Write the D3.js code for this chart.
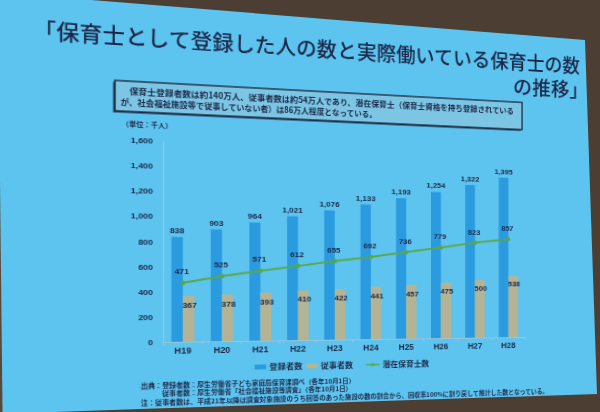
<!DOCTYPE html>
<html><head><meta charset="utf-8">
<script src="https://cdn.jsdelivr.net/npm/d3@7/dist/d3.min.js"></script>
<style>
html,body{margin:0;padding:0;background:#5cc4ef;width:600px;height:412px;overflow:hidden}
#slide{position:absolute;left:0;top:0;width:600px;height:412px;transform-origin:0 0}
#frame{position:absolute;left:0;top:0}
svg text{font-family:"Noto Sans CJK JP","Noto Sans",sans-serif}
</style></head><body>
<div id="slide"><svg id="chart" width="600" height="412" style="overflow:visible"></svg></div>
<svg id="frame" width="600" height="412"></svg>
<script>
// ---- data ----
const categories = ["H19","H20","H21","H22","H23","H24","H25","H26","H27","H28"];
const registered = [838, 903, 964, 1021, 1076, 1133, 1193, 1254, 1322, 1395];
const employed   = [367, 378, 393, 410, 422, 441, 457, 475, 500, 538];
const potential  = [471, 525, 571, 612, 655, 692, 736, 779, 823, 857];
const yTicks = [0, 200, 400, 600, 800, 1000, 1200, 1400, 1600];
const seriesNames = ["登録者数", "従事者数", "潜在保育士数"];
const titleLines = ["「保育士として登録した人の数と実際働いている保育士の数", "の推移」"];
const boxLines = ["　保育士登録者数は約140万人、従事者数は約54万人であり、潜在保育士（保育士資格を持ち登録されている",
                  "が、社会福祉施設等で従事していない者）は86万人程度となっている。"];
const unitLabel = "（単位：千人）";
const notes = ["出典：登録者数：厚生労働省子ども家庭局保育課調べ（各年10月1日）",
               "　　　従事者数：厚生労働省「社会福祉施設等調査」（各年10月1日）",
               "注：従事者数は、平成21年以降は調査対象施設のうち回答のあった施設の数の割合から、回収率100%に割り戻して推計した数となっている。"];

// ---- colours ----
const cBlue = "#2b9be0", cTan = "#b4b394", cGreen = "#5aa845", cText = "#1c2748", cAxis = "#9fc3d6";

// ---- perspective of the photographed slide (homography flat -> photo) ----
function solveH(src, dst){
  const A = [], b = [];
  for (let i = 0; i < 4; i++){
    const [x, y] = src[i], [u, v] = dst[i];
    A.push([x, y, 1, 0, 0, 0, -u*x, -u*y]); b.push(u);
    A.push([0, 0, 0, x, y, 1, -v*x, -v*y]); b.push(v);
  }
  const n = 8;
  for (let c = 0; c < n; c++){
    let p = c;
    for (let r = c+1; r < n; r++) if (Math.abs(A[r][c]) > Math.abs(A[p][c])) p = r;
    [A[c], A[p]] = [A[p], A[c]]; [b[c], b[p]] = [b[p], b[c]];
    for (let r = 0; r < n; r++){
      if (r === c) continue;
      const f = A[r][c] / A[c][c];
      for (let k = c; k < n; k++) A[r][k] -= f*A[c][k];
      b[r] -= f*b[c];
    }
  }
  return b.map((v, i) => v / A[i][i]);
}
const h = solveH([[163,141],[523,141],[523,342],[163,342]],
                 [[163,141],[523,155],[523,337],[163,342]]);
d3.select("#slide").style("transform",
  `matrix3d(${h[0]},${h[3]},0,${h[6]},${h[1]},${h[4]},0,${h[7]},0,0,1,0,${h[2]},${h[5]},0,1)`);

const svg = d3.select("#chart");

// ---- title ----
svg.append("text").attr("x", 49).attr("y", 46).attr("font-size", 21).attr("font-weight", 500)
  .attr("fill", cText).attr("textLength", 538).attr("lengthAdjust", "spacingAndGlyphs").text(titleLines[0]);
svg.append("text").attr("x", 596).attr("y", 73).attr("font-size", 21).attr("font-weight", 500)
  .attr("fill", cText).attr("text-anchor", "end").text(titleLines[1]);

// ---- note box ----
svg.append("rect").attr("x", 118.5).attr("y", 84.5).attr("width", 402).attr("height", 30).attr("fill", "#1e2b45");
svg.append("rect").attr("x", 120).attr("y", 83).attr("width", 402).attr("height", 30)
  .attr("fill", "#7cc6e4").attr("stroke", "#1e2b45").attr("stroke-width", 1.4);
svg.append("text").attr("x", 125).attr("y", 96).attr("font-size", 8.5).attr("font-weight", 700).attr("fill", cText)
  .attr("textLength", 388).attr("lengthAdjust", "spacingAndGlyphs").text(boxLines[0]);
svg.append("text").attr("x", 125).attr("y", 107.5).attr("font-size", 8.5).attr("font-weight", 700).attr("fill", cText)
  .attr("textLength", 243).attr("lengthAdjust", "spacingAndGlyphs").text(boxLines[1]);
svg.append("text").attr("x", 126).attr("y", 128).attr("font-size", 6.5).attr("font-weight", 700).attr("fill", cText).text(unitLabel);

// ---- scales ----
const x = d3.scaleBand().domain(categories).range([163, 525]).padding(0);
const y = d3.scaleLinear().domain([0, 1600]).range([342, 141]);
const cx = c => x(c) + x.bandwidth()/2;
const barW = 10.5;

// ---- axes ----
const gy = svg.append("g").attr("transform", "translate(163,0)")
  .call(d3.axisLeft(y).tickValues(yTicks).tickFormat(d3.format(",")).tickSize(0).tickPadding(9));
gy.select(".domain").attr("stroke", cAxis);
gy.selectAll("text").attr("font-size", 8).attr("font-weight", 700).attr("fill", cText)
  .style("font-family", "'Liberation Sans','Noto Sans',sans-serif");

const gx = svg.append("g").attr("transform", "translate(0,342)")
  .call(d3.axisBottom(x).tickSize(0).tickPadding(6));
gx.select(".domain").attr("stroke", cAxis);
gx.selectAll("text").attr("font-size", 8.5).attr("font-weight", 700).attr("fill", cText)
  .style("font-family", "'Liberation Sans','Noto Sans',sans-serif");
gx.selectAll(".sep").data(d3.range(categories.length + 1)).join("line")
  .attr("x1", i => x.range()[0] + i*x.step()).attr("x2", i => x.range()[0] + i*x.step())
  .attr("y1", 0).attr("y2", 3).attr("stroke", cAxis);

// ---- bars ----
svg.append("g").selectAll("rect").data(categories).join("rect")
  .attr("x", c => cx(c) - barW).attr("width", barW)
  .attr("y", (c, i) => y(registered[i])).attr("height", (c, i) => y(0) - y(registered[i]))
  .attr("fill", cBlue);
svg.append("g").selectAll("rect").data(categories).join("rect")
  .attr("x", c => cx(c)).attr("width", barW)
  .attr("y", (c, i) => y(employed[i])).attr("height", (c, i) => y(0) - y(employed[i]))
  .attr("fill", cTan);

// ---- line ----
const line = d3.line().x((d, i) => cx(categories[i])).y(d => y(d));
svg.append("path").datum(potential).attr("d", line).attr("fill", "none").attr("stroke", cGreen).attr("stroke-width", 2);
svg.append("g").selectAll("circle").data(potential).join("circle")
  .attr("cx", (d, i) => cx(categories[i])).attr("cy", d => y(d)).attr("r", 2.3).attr("fill", cGreen);

// ---- value labels ----
const numFmt = d3.format(",");
const lbl = (sel) => sel.attr("font-size", 8).attr("font-weight", 700).attr("fill", cText)
  .attr("text-anchor", "middle").style("font-family", "'Liberation Sans','Noto Sans',sans-serif");
svg.append("g").selectAll("text").data(registered).join("text").call(lbl)
  .attr("x", (d, i) => cx(categories[i]) - barW/2).attr("y", d => y(d) - 4).text(d => numFmt(d));
svg.append("g").selectAll("text").data(employed).join("text").call(lbl)
  .attr("x", (d, i) => cx(categories[i]) + barW/2 + 1).attr("y", d => y(d) + 12).text(d => numFmt(d));
svg.append("g").selectAll("text").data(potential).join("text").call(lbl)
  .attr("x", (d, i) => cx(categories[i]) - 1).attr("y", d => y(d) - 9).text(d => numFmt(d));

// ---- legend ----
const lg = svg.append("g").attr("transform", "translate(0,369)");
lg.append("rect").attr("x", 248).attr("y", -2.5).attr("width", 11).attr("height", 5).attr("fill", cBlue);
lg.append("text").attr("x", 262).attr("y", 3).attr("font-size", 8).attr("font-weight", 700).attr("fill", cText).text(seriesNames[0]);
lg.append("rect").attr("x", 298).attr("y", -2.5).attr("width", 11).attr("height", 5).attr("fill", cTan);
lg.append("text").attr("x", 312).attr("y", 3).attr("font-size", 8).attr("font-weight", 700).attr("fill", cText).text(seriesNames[1]);
lg.append("line").attr("x1", 357).attr("x2", 371).attr("y1", 0).attr("y2", 0).attr("stroke", cGreen).attr("stroke-width", 1.5);
lg.append("circle").attr("cx", 364).attr("cy", 0).attr("r", 1.8).attr("fill", cGreen);
lg.append("text").attr("x", 374).attr("y", 3).attr("font-size", 8).attr("font-weight", 700).attr("fill", cText).text(seriesNames[2]);

// ---- notes ----
notes.forEach((t, i) => {
  svg.append("text").attr("x", 143).attr("y", 388 + i*8.5).attr("font-size", 6.4).attr("font-weight", 700)
    .attr("fill", cText).text(t);
});

// ---- photo frame (outside of the projected slide) ----
d3.select("#frame").append("path")
  .attr("fill-rule", "evenodd").attr("fill", "#4d3e33")
  .attr("d", "M0,0H600V412H0Z M-1,-7.5 L585,40 L597,394 L140,409 L-1,414 Z");
d3.select("#frame").append("path").attr("fill", "#5a4838").attr("d", "M0,180 L2.5,412 L0,412Z");
</script>
</body></html>
